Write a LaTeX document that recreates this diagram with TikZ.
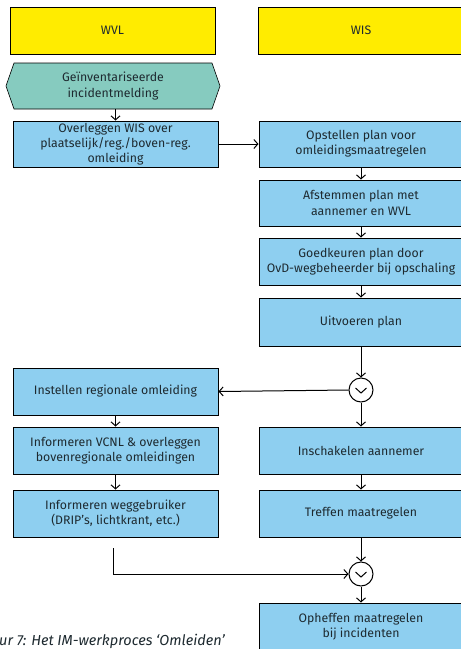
\documentclass[tikz,border=0pt]{standalone}
\usepackage{fontspec}
\setmainfont{Fira Sans}
\usetikzlibrary{arrows.meta,calc}
\definecolor{laneyellow}{HTML}{FFEC00}
\definecolor{stepblue}{HTML}{8ECFF0}
\definecolor{startteal}{HTML}{86CBBF}
\definecolor{inktext}{HTML}{1E2A30}
\tikzset{
  x=1pt, y=-1pt,
  txt/.style={text=inktext, font=\fontsize{12.3}{15.3}\selectfont},
  lane/.style={draw=black, line width=1pt, fill=laneyellow, minimum width=205pt, minimum height=47pt, inner sep=0pt, txt},
  stepbox/.style={draw=black, line width=1pt, fill=stepblue, minimum height=46pt, inner sep=0pt, align=center, txt},
  leftbox/.style={stepbox, minimum width=205pt},
  rightbox/.style={stepbox, minimum width=204pt},
  gateway/.style={draw=black, line width=1pt, circle, minimum size=24pt, inner sep=0pt, fill=white},
  chevron/.style={draw=black, line width=1pt},
  flow/.style={draw=black, line width=1pt, -{Straight Barb[length=4pt,width=9pt,line width=1pt]}},
}
\begin{document}
\begin{tikzpicture}
\useasboundingbox (0,0) rectangle (461,649);
\fill[white] (0,0) rectangle (461,649);

% swimlane headers
\node[lane] (wvl) at (112.5,30.5) {WVL};
\node[lane] (wis) at (361,30.5) {WIS};

% start event: hexagon drawn around a named text node
\coordinate (startc) at (113,86);
\fill[startteal] ($(startc)+(-99,-23)$) -- ($(startc)+(99,-23)$) -- ($(startc)+(107,0)$) -- ($(startc)+(99,23)$) -- ($(startc)+(-99,23)$) -- ($(startc)+(-107,0)$) -- cycle;
\draw[black, line width=0.6pt] ($(startc)+(-99,-23)$) -- ($(startc)+(99,-23)$) -- ($(startc)+(107,0)$) -- ($(startc)+(99,23)$) -- ($(startc)+(-99,23)$) -- ($(startc)+(-107,0)$) -- cycle;
\node[minimum width=214pt, minimum height=46pt, inner sep=0pt, align=center, txt] (start) at (startc) {Geïnventariseerde\\incidentmelding};

% left column
\node[leftbox] (ov) at (115.5,144) {Overleggen WIS over\\plaatselijk/reg./boven-reg.\\omleiding};
\node[leftbox, minimum height=47pt] (in) at (115.5,391.5) {Instellen regionale omleiding};
\node[leftbox, minimum height=47pt] (vc) at (115.5,450.5) {Informeren VCNL \& overleggen\\bovenregionale omleidingen};
\node[leftbox, minimum height=47pt] (wg) at (115.5,513.5) {Informeren weggebruiker\\(DRIP’s, lichtkrant, etc.)};

% right column
\node[rightbox] (op) at (361,144) {Opstellen plan voor\\omleidingsmaatregelen};
\node[rightbox] (af) at (361,203) {Afstemmen plan met\\aannemer en WVL};
\node[rightbox, minimum height=47pt] (gk) at (361,261.5) {Goedkeuren plan door\\OvD-wegbeheerder bij opschaling};
\node[rightbox, minimum height=48pt] (ui) at (361,322) {Uitvoeren plan};
\node[gateway] (g1) at (361,390) {};
\draw[chevron] ($(g1)+(-5.5,-2)$) -- ($(g1)+(0,3)$) -- ($(g1)+(5.5,-2)$);
\node[rightbox, minimum height=47pt] (ia) at (361,450.5) {Inschakelen aannemer};
\node[rightbox, minimum height=47pt] (tr) at (361,513.5) {Treffen maatregelen};
\node[gateway] (g2) at (361,574) {};
\draw[chevron] ($(g2)+(-5.5,-2)$) -- ($(g2)+(0,3)$) -- ($(g2)+(5.5,-2)$);
\node[rightbox, minimum height=48pt] (oh) at (361,627) {Opheffen maatregelen\\bij incidenten};

% connectors
\draw[flow] (start.south -| ov.north) -- (ov.north);
\draw[flow] (ov.east) -- (op.west);
\draw[flow] (op.south) -- (af.north);
\draw[flow] (af.south) -- (gk.north);
\draw[flow] (gk.south) -- (ui.north);
\draw[flow] (ui.south) -- (g1.north);
\draw[flow] (g1.west) -- (in.east);
\draw[flow] (g1.south) -- (ia.north);
\draw[flow] (in.south) -- (vc.north);
\draw[flow] (vc.south) -- (wg.north);
\draw[flow] (ia.south) -- (tr.north);
\draw[flow] (tr.south) -- (g2.north);
\coordinate (loose) at (113,548);
\draw[flow] (loose) |- (g2.west);
\draw[flow] (g2.south) -- (oh.north);

% caption
\node[anchor=base west, inner sep=0pt, text=inktext, font=\fontsize{14.5}{16}\selectfont\itshape] (cap) at (-1,645) {ur 7: Het IM-werkproces ‘Omleiden’};
\end{tikzpicture}
\end{document}
